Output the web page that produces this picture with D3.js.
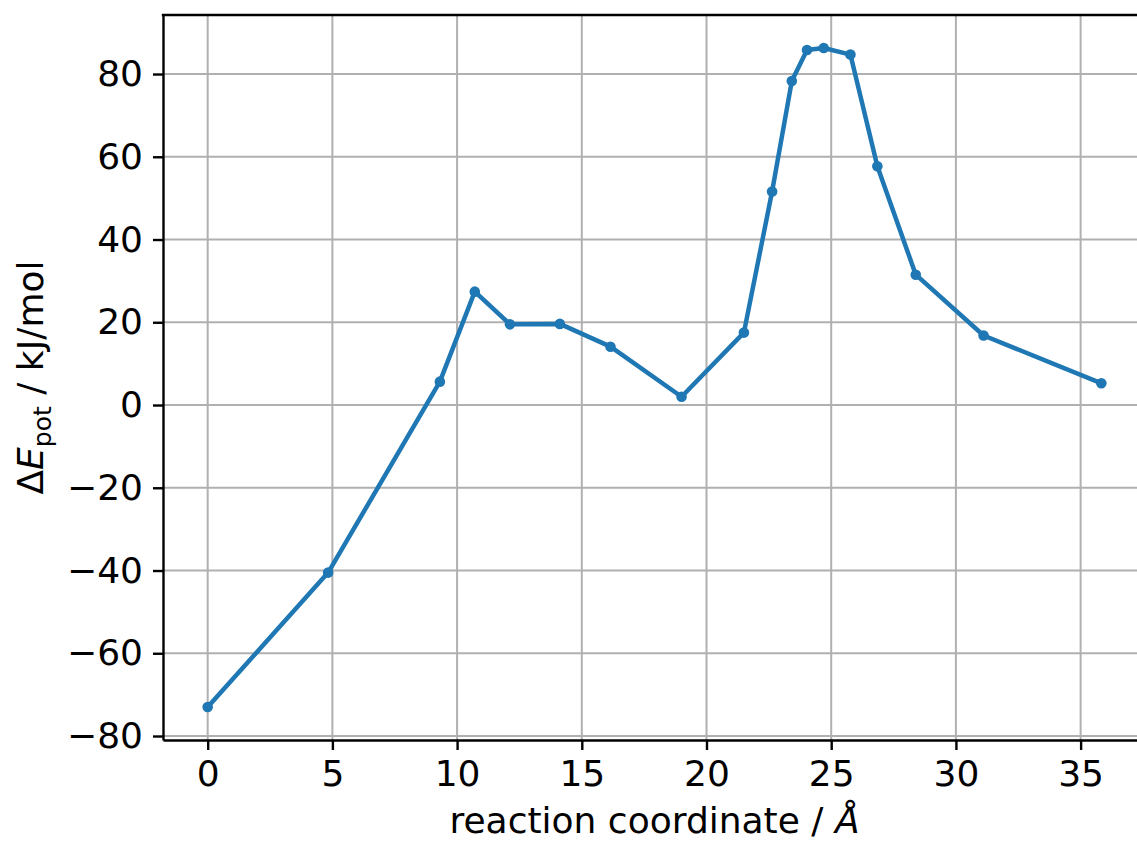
<!DOCTYPE html>
<html>
<head>
<meta charset="utf-8">
<script src="https://cdn.jsdelivr.net/npm/d3@7"></script>
<style>
  html, body { margin: 0; padding: 0; background: #fff; }
  svg { display: block; font-family: "DejaVu Sans", sans-serif; }
</style>
</head>
<body>
<script>
// reaction coordinate (Å) and potential energy (kJ/mol)
const coord = [0, 4.83, 9.31, 10.71, 12.12, 14.12, 16.15, 19.0, 21.5, 22.63,
  23.42, 24.03, 24.7, 25.77, 26.85, 28.39, 31.11, 35.83];
const energy = [-73.0, -40.5, 5.65, 27.4, 19.5, 19.6, 14.1, 2.0, 17.5, 51.6,
  78.3, 85.8, 86.3, 84.7, 57.7, 31.5, 16.8, 5.25];
const xTicks = [0, 5, 10, 15, 20, 25, 30, 35];
const yTicks = [-80, -60, -40, -20, 0, 20, 40, 60, 80];

const W = 1137, H = 841;
const margin = { top: 15, left: 163, bottom: 101 };
const plotRight = 1146; // axes run a bit past the picture edge

const data = coord.map((c, i) => ({ x: c, y: energy[i] }));

// matplotlib style 5% margins
const xPad = (d3.max(coord) - d3.min(coord)) * 0.05;
const yPad = (d3.max(energy) - d3.min(energy)) * 0.05;

const x = d3.scaleLinear()
  .domain([d3.min(coord) - xPad, d3.max(coord) + xPad])
  .range([margin.left, plotRight]);
const y = d3.scaleLinear()
  .domain([d3.min(energy) - yPad, d3.max(energy) + yPad])
  .range([H - margin.bottom, margin.top]);

const fmt = (v) => String(v).replace("-", "\u2212");

const svg = d3.select("body").append("svg")
  .attr("width", W)
  .attr("height", H);

// grid
svg.append("g")
  .selectAll("line")
  .data(xTicks)
  .join("line")
  .attr("x1", (d) => x(d)).attr("x2", (d) => x(d))
  .attr("y1", margin.top).attr("y2", H - margin.bottom)
  .attr("stroke", "#b0b0b0").attr("stroke-width", 2);
svg.append("g")
  .selectAll("line")
  .data(yTicks)
  .join("line")
  .attr("x1", margin.left).attr("x2", plotRight)
  .attr("y1", (d) => y(d)).attr("y2", (d) => y(d))
  .attr("stroke", "#b0b0b0").attr("stroke-width", 2);

// line + markers
const line = d3.line().x((d) => x(d.x)).y((d) => y(d.y));
svg.append("path")
  .datum(data)
  .attr("d", line)
  .attr("fill", "none")
  .attr("stroke", "#1f77b4")
  .attr("stroke-width", 4.5)
  .attr("stroke-linejoin", "round")
  .attr("stroke-linecap", "square");
svg.append("g")
  .selectAll("circle")
  .data(data)
  .join("circle")
  .attr("cx", (d) => x(d.x))
  .attr("cy", (d) => y(d.y))
  .attr("r", 5.3)
  .attr("fill", "#1f77b4");

// axes
const xAxis = svg.append("g")
  .attr("transform", `translate(0,${H - margin.bottom})`)
  .call(d3.axisBottom(x).tickValues(xTicks).tickFormat(fmt)
    .tickSize(10).tickPadding(10).tickSizeOuter(0));
const yAxis = svg.append("g")
  .attr("transform", `translate(${margin.left},0)`)
  .call(d3.axisLeft(y).tickValues(yTicks).tickFormat(fmt)
    .tickSize(10).tickPadding(10).tickSizeOuter(0));

[xAxis, yAxis].forEach((g) => {
  g.selectAll(".domain").attr("stroke", "#000").attr("stroke-width", 2.4);
  g.selectAll(".tick line").attr("stroke", "#000").attr("stroke-width", 2.4);
  g.selectAll(".tick text")
    .attr("fill", "#000")
    .style("font-family", "DejaVu Sans")
    .style("font-size", "36px");
});

// top spine
svg.append("line")
  .attr("x1", margin.left - 1.2).attr("x2", plotRight)
  .attr("y1", margin.top).attr("y2", margin.top)
  .attr("stroke", "#000").attr("stroke-width", 2.4);

// labels
const xl = svg.append("text")
  .attr("x", (margin.left + plotRight) / 2)
  .attr("y", 833)
  .attr("text-anchor", "middle")
  .style("font-size", "36px");
xl.append("tspan").text("reaction coordinate / ");
xl.append("tspan").attr("font-style", "italic").text("Å");

const yl = svg.append("text")
  .attr("transform", `translate(43,${(margin.top + H - margin.bottom) / 2}) rotate(-90)`)
  .attr("text-anchor", "middle")
  .style("font-size", "36px");
yl.append("tspan").text("Δ");
yl.append("tspan").attr("font-style", "italic").text("E");
yl.append("tspan").attr("font-size", "25px").attr("dy", 8).text("pot");
yl.append("tspan").attr("dy", -8).text(" / kJ/mol");
</script>
</body>
</html>
